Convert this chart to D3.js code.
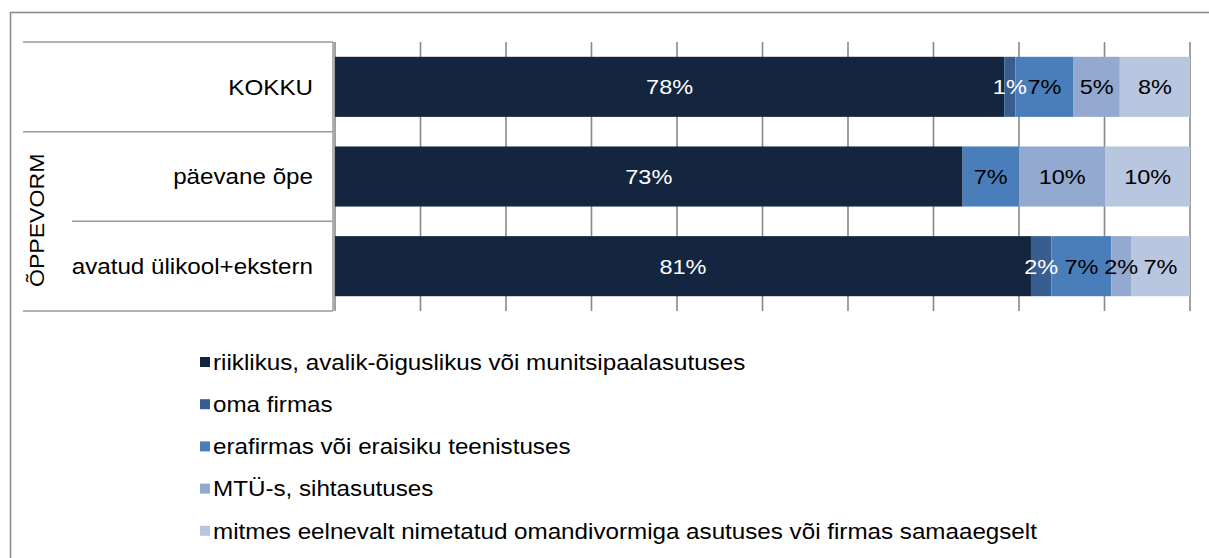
<!DOCTYPE html>
<html>
<head>
<meta charset="utf-8">
<script src="https://cdn.jsdelivr.net/npm/d3@7"></script>
<style>
  body { margin: 0; background: #fff; }
  text { font-family: "Liberation Sans", Arial, sans-serif; }
</style>
</head>
<body>
<div id="chart"></div>
<script>
const categories = ['KOKKU', 'päevane õpe', 'avatud ülikool+ekstern'];
const groupLabel = 'ÕPPEVORM';
const seriesNames = [
    'riiklikus, avalik-õiguslikus või munitsipaalasutuses',
    'oma firmas',
    'erafirmas või eraisiku teenistuses',
    'MTÜ-s, sihtasutuses',
    'mitmes eelnevalt nimetatud omandivormiga asutuses või firmas samaaegselt'
];
// shares per category, in series order (percent)
const riiklik = [78.2, 73.4, 81.4];
const omaFirma = [1.3, 0, 2.4];
const eraFirma = [6.8, 6.6, 7.0];
const mtu = [5.4, 10.1, 2.3];
const mitu = [8.2, 9.9, 6.9];
const colors = ['#13253f', '#375e8e', '#4a7ebb', '#93a9cf', '#b9c6e0'];
const labelColors = ['#fff', '#fff', '#000', '#000', '#000'];
const xTicks = d3.range(0, 101, 10);

const width = 1209, height = 558;
const sx = 1.1; // text in the original is drawn a bit wide

const svg = d3.select('#chart').append('svg')
    .attr('width', width)
    .attr('height', height);

// outer frame
svg.append('path')
    .attr('d', `M10.5,${height + 2}V12.5H${width + 2}`)
    .attr('fill', 'none')
    .attr('stroke', '#878787')
    .attr('stroke-width', 1.5);

const plot = { left: 335, right: 1190, top: 42, bottom: 311 };

const seriesValues = [riiklik, omaFirma, eraFirma, mtu, mitu];
const rows = categories.map((c, i) => {
    const vals = seriesValues.map(s => s[i]);
    const total = d3.sum(vals);
    let acc = 0;
    return {
        category: c,
        segs: vals.map((v, k) => {
            const s = { k: k, v: v, x0: acc / total, x1: (acc + v) / total };
            acc += v;
            return s;
        })
    };
});

const xScale = d3.scaleLinear()
    .domain([0, 1])
    .range([plot.left, plot.right]);

const yScale = d3.scaleBand()
    .domain(categories)
    .range([plot.top, plot.bottom])
    .paddingInner(0.33)
    .paddingOuter(0.165);

// gridlines
svg.append('g')
    .selectAll('line')
    .data(xTicks)
    .enter()
    .append('line')
    .attr('x1', d => xScale(d / 100))
    .attr('x2', d => xScale(d / 100))
    .attr('y1', plot.top)
    .attr('y2', plot.bottom)
    .attr('stroke', '#898989')
    .attr('stroke-width', 1.6);

// category axis lines
const bandStep = (plot.bottom - plot.top) / categories.length;
const axisG = svg.append('g')
    .attr('stroke', '#9a9a9a')
    .attr('stroke-width', 1.5);
axisG.append('line')
    .attr('x1', 333).attr('x2', 333)
    .attr('y1', plot.top).attr('y2', plot.bottom);
categories.concat(['end']).forEach((c, i) => {
    const y = plot.top + bandStep * i;
    axisG.append('line')
        .attr('x1', i === 2 ? 72 : 23)
        .attr('x2', 333)
        .attr('y1', y).attr('y2', y);
});

// bars
const rowG = svg.append('g')
    .selectAll('g')
    .data(rows)
    .enter()
    .append('g');

rowG.selectAll('rect')
    .data(d => d.segs.map(s => Object.assign({ category: d.category }, s)))
    .enter()
    .append('rect')
    .attr('x', d => xScale(d.x0))
    .attr('width', d => xScale(d.x1) - xScale(d.x0))
    .attr('y', d => yScale(d.category))
    .attr('height', yScale.bandwidth())
    .attr('fill', d => colors[d.k]);

rowG.selectAll('text')
    .data(d => d.segs.filter(s => s.v > 0).map(s => Object.assign({ category: d.category }, s)))
    .enter()
    .append('text')
    .attr('transform', d => `translate(${(xScale(d.x0) + xScale(d.x1)) / 2},${yScale(d.category) + yScale.bandwidth() / 2}) scale(1.12,1)`)
    .attr('text-anchor', 'middle')
    .attr('dy', '0.35em')
    .style('font-size', '21px')
    .attr('fill', d => labelColors[d.k])
    .text(d => Math.round(d.v) + '%');

// category labels
svg.append('g')
    .selectAll('text')
    .data(categories)
    .enter()
    .append('text')
    .attr('transform', d => `translate(313,${yScale(d) + yScale.bandwidth() / 2}) scale(${sx},1)`)
    .attr('text-anchor', 'end')
    .attr('dy', '0.35em')
    .style('font-size', '22px')
    .attr('fill', '#000')
    .text(d => d);

svg.append('text')
    .attr('transform', `translate(37,${plot.top + bandStep * 2 - 1}) rotate(-90) scale(${sx},1)`)
    .attr('text-anchor', 'middle')
    .attr('dy', '0.35em')
    .style('font-size', '21px')
    .text(groupLabel);

// legend
const legend = svg.append('g')
    .selectAll('g')
    .data(seriesNames)
    .enter()
    .append('g')
    .attr('transform', (d, i) => `translate(200,${362 + i * 42.2})`);

legend.append('rect')
    .attr('x', 0)
    .attr('y', -5)
    .attr('width', 10)
    .attr('height', 10)
    .attr('fill', (d, i) => colors[i]);

legend.append('text')
    .attr('transform', `translate(13,0) scale(${sx},1)`)
    .attr('dy', '0.35em')
    .style('font-size', '22px')
    .text(d => d);
</script>
</body>
</html>
